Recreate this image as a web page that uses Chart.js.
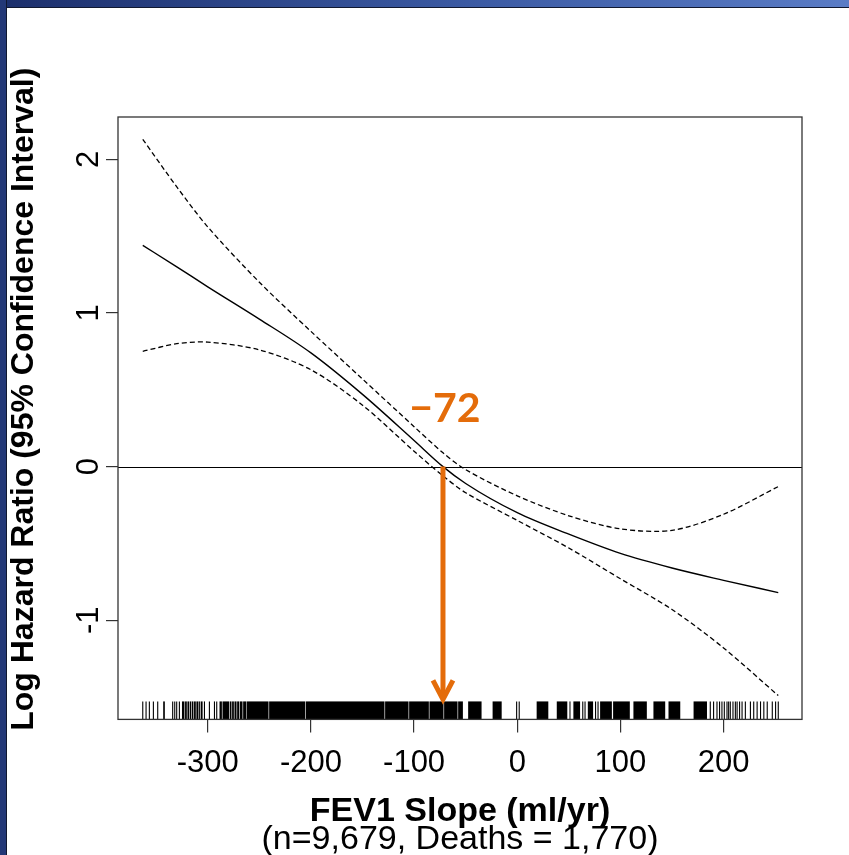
<!DOCTYPE html>
<html>
<head>
<meta charset="utf-8">
<script src="https://cdn.jsdelivr.net/npm/chart.js@4.4.1/dist/chart.umd.min.js"></script>
<style>
  html, body { margin: 0; padding: 0; background: #fff; }
  #wrap { position: relative; width: 849px; height: 855px; overflow: hidden; }
  #topbar { position: absolute; left: 0; top: 0; width: 849px; height: 7px;
            background: linear-gradient(to right, #1c2f6c, #3b5aa3 55%, #5a7cc6);
            border-bottom: 1px solid #101830; }
  #leftbar { position: absolute; left: 0; top: 0; width: 6px; height: 855px;
             background: #233877; border-right: 1px solid #101830; }
  canvas { position: absolute; left: 0; top: 0; }
</style>
</head>
<body>
<div id="wrap">
  <canvas id="fev-chart" width="849" height="855"></canvas>
  <div id="topbar"></div>
  <div id="leftbar"></div>
</div>
<script>
// Spline fit: log hazard ratio vs FEV1 slope with 95% CI
const slopeX  = [-363, -330, -300, -250, -200, -150, -100, -72, -50, 0, 50, 100, 150, 200, 253];
const logHR   = [1.44, 1.30, 1.17, 0.96, 0.74, 0.47, 0.17, 0.0, -0.11, -0.30, -0.44, -0.565, -0.66, -0.74, -0.82];
const upperCI = [2.13, 1.82, 1.56, 1.20, 0.88, 0.57, 0.26, 0.09, -0.02, -0.19, -0.32, -0.405, -0.415, -0.31, -0.13];
const lowerCI = [0.75, 0.80, 0.81, 0.76, 0.63, 0.40, 0.10, -0.06, -0.17, -0.35, -0.53, -0.73, -0.93, -1.18, -1.49];

const xTicks = [-300, -200, -100, 0, 100, 200];
const yTicks = [-1, 0, 1, 2];

// rug of individual slopes: single ticks and dense runs
const rugTicks = [-363, -359.8, -356.6, -352.7, -348.5, -334, -332, -330.1, -327.5,
  -303.2, -298.4, -293.5, -291.3, -0.6, 1.9, 63.5, 65.7, 75.9, 78.3,
  187.1, 190.3, 193.6, 196.1, 198.4, 200.7, 203.3, 204.9, 206.5, 209.1, 211.4, 213.1,
  215.5, 217.9, 221.1, 226, 229.2, 232.5, 235.8, 239, 242.3, 247.2, 250.4, 253];
const rugRuns = [
  [-343.2, -341.6],
  [-325, -322.6], [-322.0, -320.3], [-319.7, -318.1], [-317.5, -316.1], [-315.5, -313.9],
  [-313.3, -311.6], [-311.0, -309.0], [-308.4, -307.4], [-306.8, -305],
  [-288.6, -286.3], [-285.7, -279.2], [-278.6, -277.0], [-276.4, -274.7], [-274.1, -272.1],
  [-271.5, -269.5], [-268.9, -266.3], [-265.7, -262.9],
  [-262.4, -241.1], [-240.5, -205.7], [-205.1, -128.7], [-128.1, -105.4], [-104.8, -85.7],
  [-85.1, -71.5], [-70.9, -57.9], [-57.3, -52.7],
  [-47.6, -34.6], [-23.9, -15.1], [18.8, 30.1], [38.3, 48.5], [50.6, 51.6], [54.4, 60.9],
  [68.4, 73.5], [80.3, 91.7], [92.9, 109.1], [112.6, 125.6], [132, 143.4], [146.6, 158],
  [170.9, 183.9]
];

// threshold where the fitted log HR crosses zero
const crossLabel = '\u221272';
const crossX = -72;

const rugTop = -1.528;
const labelY = 0.29;
const yTitle = 'Log Hazard Ratio (95% Confidence Interval)';

function pts(ys) {
  return slopeX.map((x, i) => ({ x: x, y: ys[i] }));
}

const baseFont = "'Liberation Sans', Arial, sans-serif";

// box, zero line, rug, threshold arrow and the y title
const plotExtras = {
  id: 'plotExtras',
  beforeDatasetsDraw(chart) {
    const { ctx, chartArea: a, scales: { y } } = chart;
    const y0 = Math.round(y.getPixelForValue(0)) + 0.5;
    ctx.save();
    ctx.strokeStyle = '#000';
    ctx.lineWidth = 1.2;
    ctx.beginPath();
    ctx.moveTo(a.left, y0);
    ctx.lineTo(a.right, y0);
    ctx.stroke();
    ctx.restore();
  },
  afterDatasetsDraw(chart) {
    const { ctx, chartArea: a, scales: { x, y } } = chart;
    const yBot = a.bottom;
    const yTop = y.getPixelForValue(rugTop);
    ctx.save();
    ctx.fillStyle = '#000';
    rugRuns.forEach(r => {
      const x1 = x.getPixelForValue(r[0]);
      const x2 = x.getPixelForValue(r[1]);
      ctx.fillRect(x1, yTop, x2 - x1, yBot - yTop);
    });
    ctx.strokeStyle = '#000';
    ctx.lineWidth = 1.1;
    rugTicks.forEach(v => {
      const px = x.getPixelForValue(v);
      ctx.beginPath();
      ctx.moveTo(px, yTop);
      ctx.lineTo(px, yBot);
      ctx.stroke();
    });

    // plot frame
    ctx.strokeStyle = '#333';
    ctx.lineWidth = 1.3;
    ctx.strokeRect(a.left, a.top, a.right - a.left, a.bottom - a.top);

    // arrow from the zero crossing down to the rug
    const ax = x.getPixelForValue(crossX);
    const ay0 = y.getPixelForValue(0);
    const ay1 = y.getPixelForValue(rugTop);
    ctx.strokeStyle = '#E46C0A';
    ctx.lineWidth = 5;
    ctx.lineCap = 'butt';
    ctx.beginPath();
    ctx.moveTo(ax, ay0);
    ctx.lineTo(ax, ay1 - 3);
    ctx.stroke();
    ctx.lineJoin = 'miter';
    ctx.beginPath();
    ctx.moveTo(ax - 10, ay1 - 21);
    ctx.lineTo(ax, ay1 - 2);
    ctx.lineTo(ax + 10, ay1 - 21);
    ctx.stroke();

    ctx.fillStyle = '#E46C0A';
    ctx.font = "bold 41px Lato, 'Open Sans', sans-serif";
    ctx.textAlign = 'center';
    ctx.textBaseline = 'alphabetic';
    ctx.fillText(crossLabel, ax + 2, y.getPixelForValue(labelY));
    ctx.restore();
  },
  afterDraw(chart) {
    // y title sits a little above the plot's midline
    const { ctx, chartArea: a } = chart;
    ctx.save();
    ctx.translate(24, (a.top + a.bottom) / 2 - 19);
    ctx.rotate(-Math.PI / 2);
    ctx.fillStyle = '#000';
    ctx.font = 'bold 32px ' + baseFont;
    ctx.textAlign = 'center';
    ctx.textBaseline = 'middle';
    ctx.fillText(yTitle, 0, 0);
    ctx.restore();
  }
};

const ctx = document.getElementById('fev-chart').getContext('2d');
new Chart(ctx, {
  type: 'line',
  data: {
    datasets: [
      { label: 'Log HR', data: pts(logHR), borderColor: '#000', borderWidth: 1.4, cubicInterpolationMode: 'monotone' },
      { label: 'Upper 95% CI', data: pts(upperCI), borderColor: '#000', borderWidth: 1.3, borderDash: [5, 3] },
      { label: 'Lower 95% CI', data: pts(lowerCI), borderColor: '#000', borderWidth: 1.3, borderDash: [5, 3] }
    ]
  },
  options: {
    responsive: false,
    animation: false,
    layout: { padding: { top: 117, right: 47, left: 0, bottom: 0 } },
    elements: {
      point: { radius: 0 },
      line: { tension: 0.3, fill: false }
    },
    plugins: {
      legend: { display: false },
      tooltip: { enabled: false },
      subtitle: {
        display: true,
        position: 'bottom',
        fullSize: false,
        text: '(n=9,679, Deaths = 1,770)',
        color: '#000',
        font: { family: baseFont, size: 34, weight: 'normal', lineHeight: 0.9 },
        padding: 0
      }
    },
    scales: {
      x: {
        type: 'linear',
        min: -387,
        max: 276,
        afterBuildTicks: s => { s.ticks = xTicks.map(v => ({ value: v })); },
        afterFit: s => { s.height = 105; },
        border: { display: false },
        grid: { drawOnChartArea: false, drawTicks: true, tickLength: 13, color: '#333', lineWidth: 1.2 },
        ticks: {
          autoSkip: false, maxRotation: 0, padding: 12, color: '#000',
          font: { family: baseFont, size: 31 }
        },
        title: {
          display: true,
          text: 'FEV1 Slope (ml/yr)',
          color: '#000',
          font: { family: baseFont, size: 34, weight: 'bold', lineHeight: 0.75 },
          padding: 0
        }
      },
      y: {
        type: 'linear',
        min: -1.645,
        max: 2.275,
        afterBuildTicks: s => { s.ticks = yTicks.map(v => ({ value: v })); },
        afterFit: s => { s.width = 118; },
        border: { display: false },
        grid: { drawOnChartArea: false, drawTicks: true, tickLength: 12, color: '#333', lineWidth: 1.2 },
        ticks: {
          autoSkip: false, minRotation: 90, maxRotation: 90, crossAlign: 'center',
          padding: 3, color: '#000',
          font: { family: baseFont, size: 31 }
        }
      }
    }
  },
  plugins: [plotExtras]
});
</script>
</body>
</html>
